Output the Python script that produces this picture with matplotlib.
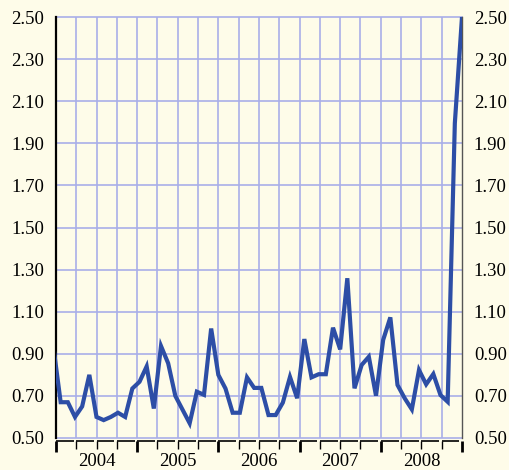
import numpy as np
import matplotlib.pyplot as plt

# series values (one point per period, first point clipped by the axis)
values = [0.93, 0.67, 0.67, 0.60, 0.65, 0.80, 0.60, 0.585, 0.60, 0.62,
          0.60, 0.735, 0.767, 0.84, 0.64, 0.937, 0.855, 0.70, 0.635, 0.57,
          0.72, 0.705, 1.02, 0.80, 0.735, 0.62, 0.62, 0.788, 0.738, 0.738,
          0.609, 0.609, 0.668, 0.79, 0.689, 0.97, 0.788, 0.803, 0.803, 1.024,
          0.921, 1.259, 0.736, 0.847, 0.886, 0.701, 0.966, 1.073, 0.752, 0.689,
          0.636, 0.823, 0.755, 0.804, 0.704, 0.672, 1.995, 2.50]
years = ['2004', '2005', '2006', '2007', '2008']
y_ticks = [0.50, 0.70, 0.90, 1.10, 1.30, 1.50, 1.70, 1.90, 2.10, 2.30, 2.50]

BG = '#fefce9'
GRID = '#a9aee8'
LINE = '#2d4ea6'

plt.rcParams['font.family'] = ['Liberation Serif', 'DejaVu Serif']

fig = plt.figure(figsize=(5.1, 4.7), dpi=100, facecolor=BG)
ax = fig.add_axes([56 / 510, 32 / 470, 406 / 510, 421 / 470], facecolor=BG)

x = np.arange(len(values))
x0, x1 = 0.35, len(values) - 1
ax.plot(x, values, color=LINE, lw=3.0, solid_joinstyle='miter', zorder=3)
ax.set_xlim(x0, x1)
ax.set_ylim(0.5, 2.5)

# quarterly grid, years of four quarters
quarters = np.linspace(x0, x1, 4 * len(years) + 1)
year_edges = quarters[::4]
ax.set_yticks(y_ticks, [f'{v:.2f}' for v in y_ticks])
ax.set_xticks(year_edges)
ax.set_xticks(quarters, minor=True)
ax.set_xticklabels([])
for q in quarters[1:-1]:
    ax.axvline(q, color=GRID, lw=1.2, zorder=1)
for v in y_ticks:
    ax.axhline(v, color=GRID, lw=1.2, zorder=1, clip_on=False)

ax.tick_params(axis='y', left=False, right=False, labelleft=True, labelright=True,
               labelsize=13.5, pad=5)
ax.tick_params(axis='x', which='major', direction='out', length=8, width=2,
               color='black', top=False)
ax.tick_params(axis='x', which='minor', direction='out', length=5.5, width=1,
               color='black', top=False)

ax.spines['top'].set_visible(False)
ax.spines['left'].set_color('black')
ax.spines['left'].set_linewidth(1.6)
ax.spines['right'].set_color('#555555')
ax.spines['right'].set_linewidth(1.0)
ax.spines['bottom'].set_position(('outward', 2.5))
ax.spines['bottom'].set_visible(False)

# broken bottom axis: one segment per quarter
xt = ax.get_xaxis_transform()
gap = 0.35
for a, b in zip(quarters[:-1], quarters[1:]):
    ax.plot([a, b - gap], [-0.006, -0.006], color='black', lw=1.2,
            transform=xt, clip_on=False, solid_capstyle='butt')

for i, yr in enumerate(years):
    mid = (year_edges[i] + year_edges[i + 1]) / 2
    ax.text(mid, -0.055, yr, transform=xt, ha='center', va='center', fontsize=13.5)

fig.savefig('out.png', dpi=100, facecolor=BG)
